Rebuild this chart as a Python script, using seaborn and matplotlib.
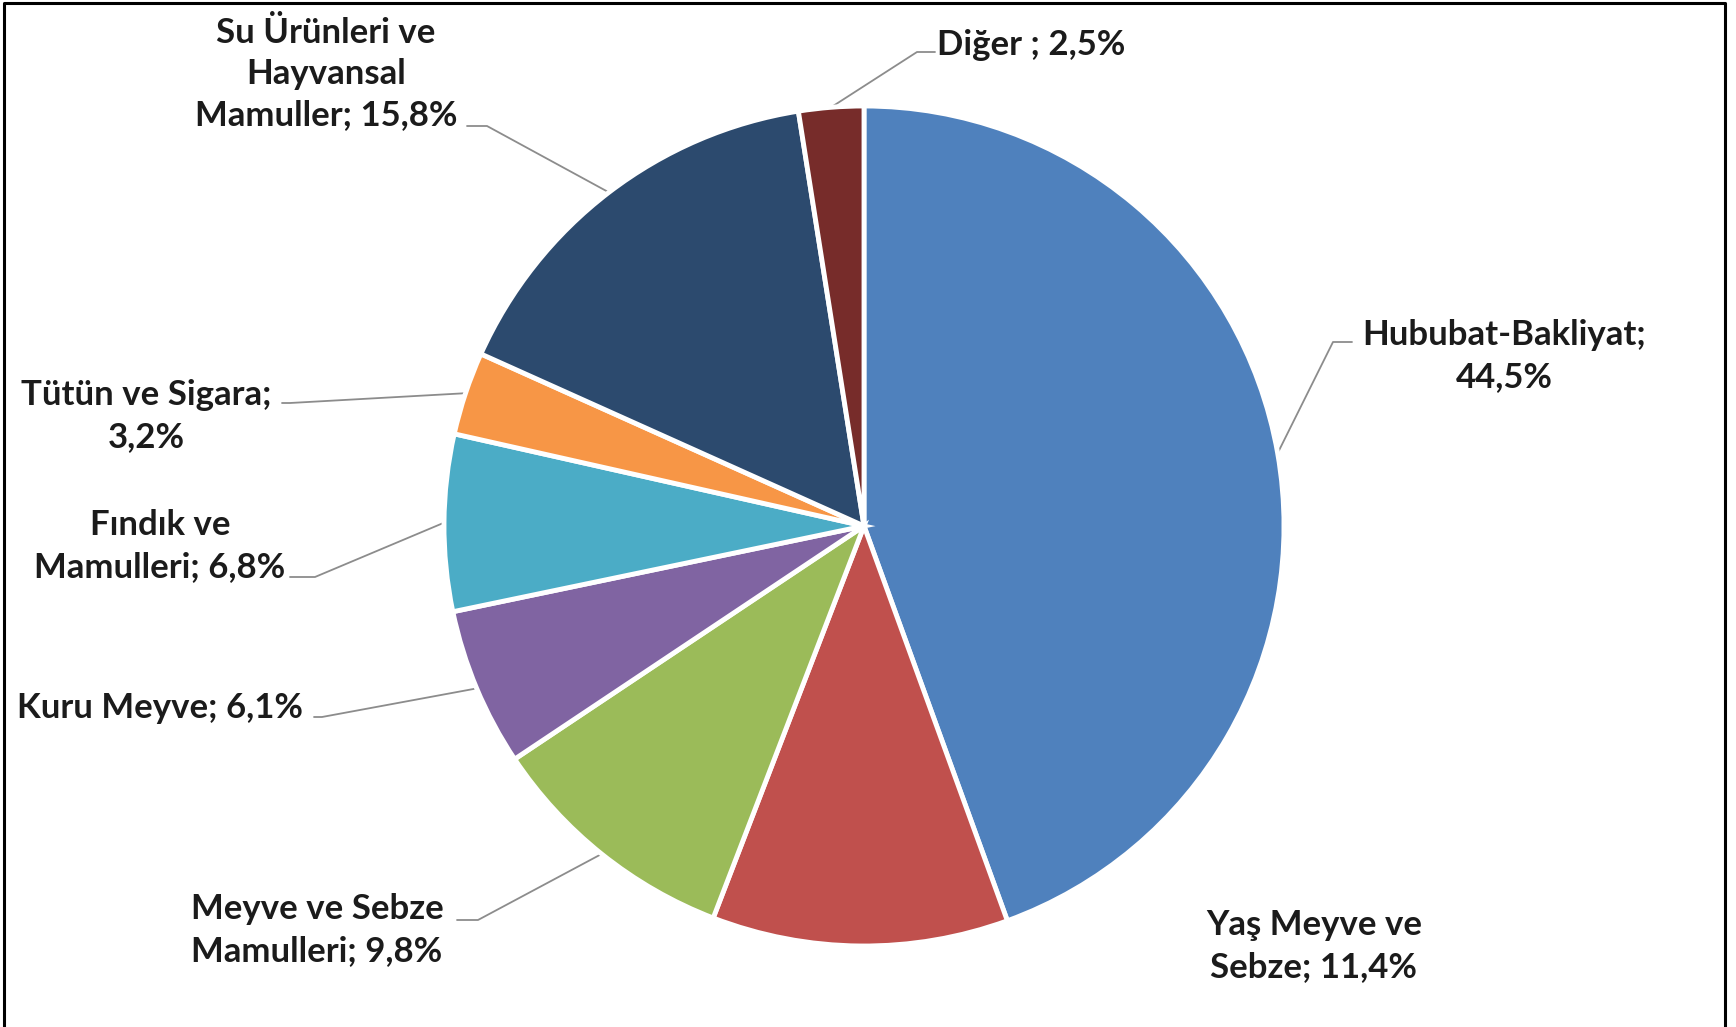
import numpy as np
import matplotlib
matplotlib.use("Agg")
import matplotlib.pyplot as plt
import seaborn as sns

# ---- data ----
categories = ["Hububat-Bakliyat", "Yaş Meyve ve Sebze", "Meyve ve Sebze Mamulleri",
              "Kuru Meyve", "Fındık ve Mamulleri", "Tütün ve Sigara",
              "Su Ürünleri ve Hayvansal Mamuller", "Diğer"]
values = [44.5, 11.4, 9.8, 6.1, 6.8, 3.2, 15.8, 2.5]
label_texts = ["Hububat-Bakliyat;\n44,5%",
               "Yaş Meyve ve\nSebze; 11,4%",
               "Meyve ve Sebze\nMamulleri; 9,8%",
               "Kuru Meyve; 6,1%",
               "Fındık ve\nMamulleri; 6,8%",
               "Tütün ve Sigara;\n3,2%",
               "Su Ürünleri ve\nHayvansal\nMamuller; 15,8%",
               "Diğer ; 2,5%"]
colors = ["#4F81BD", "#C0504D", "#9BBB59", "#8064A2", "#4BACC6", "#F79646", "#2C4A6E", "#772C2A"]

# ---- layout (pixel coordinates, y from top) ----
W, H = 1736, 1027
cx, cy, R = 864, 526, 420
text_pos = [(1504, 356), (1314, 946), (317, 930), (160, 708), (160, 546),
            (146, 416), (326, 74), (1031, 45)]
leaders = [[(1333, 342), (1352, 342)],
           None,
           [(478, 920), (457, 920)],
           [(322, 717), (314, 717)],
           [(315, 577), (290, 577)],
           [(290, 403), (282, 403)],
           [(487, 126), (467, 126)],
           [(917, 52), (935, 52)]]

sns.set_theme(style="white")
plt.rcParams["font.family"] = ["Lato", "DejaVu Sans"]

fig = plt.figure(figsize=(W / 100, H / 100), dpi=100)
ax = fig.add_axes([0, 0, 1, 1])
wedges, _ = ax.pie(values, colors=colors, startangle=90, counterclock=False,
                   radius=R, center=(cx, H - cy),
                   wedgeprops=dict(edgecolor="white", linewidth=3.5))
ax.set_xlim(0, W)
ax.set_ylim(0, H)
ax.set_aspect("equal")
ax.axis("off")

for w, txt, (tx, ty), lead in zip(wedges, label_texts, text_pos, leaders):
    ax.text(tx, H - ty, txt, ha="center", va="center", multialignment="center",
            fontsize=25, fontweight="bold", color="#1b1b1b", linespacing=1.35)
    if lead is not None:
        th = np.deg2rad((w.theta1 + w.theta2) / 2)
        ex, ey = cx + R * np.cos(th), (H - cy) + R * np.sin(th)
        xs = [ex] + [p[0] for p in lead]
        ys = [ey] + [H - p[1] for p in lead]
        ax.plot(xs, ys, color="#8c8c8c", lw=1.3, zorder=0.5)

# frame border (left, top, right)
ax.plot([4, 4, 1725, 1725], [0, H - 3, H - 3, 0], color="black", lw=2.2, clip_on=False)

fig.savefig("out.png", dpi=100, facecolor="white")
